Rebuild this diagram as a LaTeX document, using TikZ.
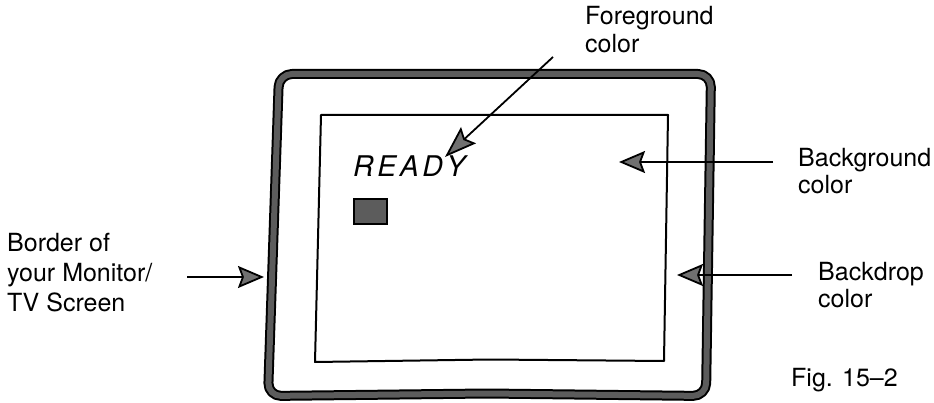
\documentclass[tikz,border=0pt]{standalone}
\usepackage{fontspec}
\setmainfont{TeX Gyre Heros}
\usetikzlibrary{arrows.meta}
\definecolor{framegray}{RGB}{92,92,92}
\definecolor{arrowgray}{RGB}{112,112,112}
\begin{document}
\begin{tikzpicture}[x=1pt,y=-1pt,
  lbl/.style={font=\fontsize{25}{28}\selectfont, align=left, anchor=base west, inner sep=0pt},
  ptr/.style={line width=1.8pt, -{Stealth[length=26pt,width=22pt,inset=4pt,fill=arrowgray]}},
  longptr/.style={line width=1.8pt, -{Stealth[length=32pt,width=22pt,inset=5pt,fill=arrowgray]}},
  frameout/.style={line width=10pt, black, rounded corners=13pt, line join=round},
  framein/.style={line width=6pt, framegray, rounded corners=13pt, line join=round},
  screen/.style={line width=2pt, black, line join=round},
  cursorbox/.style={draw=black, line width=1.2pt, fill=framegray, minimum width=33pt, minimum height=25pt, inner sep=0pt},
  ready/.style={font=\fontsize{28.5}{30}\itshape\selectfont, anchor=base west, inner sep=0pt}
]
\useasboundingbox (0,0) rectangle (934,403);

% monitor frame
\draw[frameout] (279,74) -- (711,74) -- (706,396) -- (487,393.5) -- (268,396) -- cycle;
\draw[framein]  (279,74) -- (711,74) -- (706,396) -- (487,393.5) -- (268,396) -- cycle;

% screen area
\draw[screen] (321,115) -- (668,115) -- (664,361) -- (490,359.5) -- (315,362) -- cycle;

% screen contents
\node[ready] (readytxt) at (353,177) {R\kern3.5pt E\kern3.5pt A\kern3.5pt D\kern3.5pt Y};
\node[cursorbox] (cursor) at (370.5,211.5) {};

% labels (anchored at the baseline of the last line)
\node[lbl] (fg) at (585,53) {Foreground\\color};
\node[lbl, font=\fontsize{25}{27}\selectfont] (bg) at (798,194) {Background\\color};
\node[lbl] (bd) at (818,308) {Backdrop\\color};
\node[lbl, font=\fontsize{25}{30}\selectfont] (border) at (7,312) {Border of\\your Monitor/\\TV Screen};
\node[lbl] (fig) at (791,386) {Fig. 15–2};

% arrow ends
\coordinate (fgs) at (553,57);
\coordinate (fgt) at (445,157);
\coordinate (bgs) at (773,162);
\coordinate (bgt) at (619,162);
\coordinate (bds) at (792,275);
\coordinate (bdt) at (677,275);
\coordinate (brs) at (187,277);
\coordinate (brt) at (264,277);

\draw[longptr] (fgs) -- (fgt);
\draw[ptr] (bgs) -- (bgt);
\draw[ptr] (bds) -- (bdt);
\draw[ptr] (brs) -- (brt);
\end{tikzpicture}
\end{document}
